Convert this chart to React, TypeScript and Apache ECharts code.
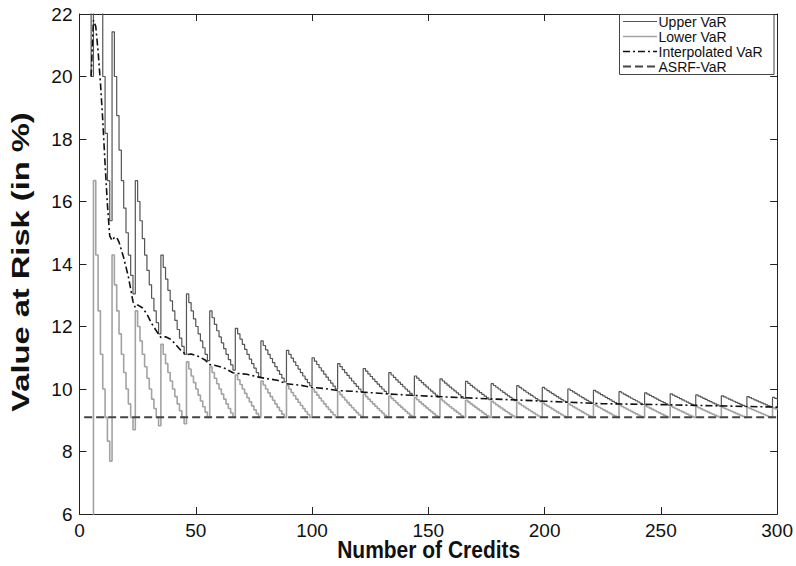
import React, { useEffect, useRef } from "react";
import * as echarts from "echarts";

// Number of credits at which the loss count (number of defaults at the quantile) steps up
const stepCredits = [1, 6, 14, 24, 35, 46, 56, 67, 78, 89, 100, 111, 122, 133, 144, 155, 166, 177, 188, 199, 210, 221, 232, 243, 254, 265, 276, 287, 298];
// Default counts of the upper and lower quantile on each step
const upperDefaults = [1, 2, 3, 4, 5, 6, 7, 8, 9, 10, 11, 12, 13, 14, 15, 16, 17, 18, 19, 20, 21, 22, 23, 24, 25, 26, 27, 28, 29];
const lowerDefaults = [0, 1, 2, 3, 4, 5, 6, 7, 8, 9, 10, 11, 12, 13, 14, 15, 16, 17, 18, 19, 20, 21, 22, 23, 24, 25, 26, 27, 28];
const maxCredits = 300;

// Interpolated VaR
const interpCredits = [5, 6, 7, 8, 9, 10, 11, 12, 13, 14, 15, 16, 17, 19, 21, 23, 24, 25, 27, 29, 31, 34, 35, 37, 39, 41, 44, 46, 48, 51, 54, 56, 58, 62, 66, 68, 72, 77, 80, 85, 89, 95, 100, 106, 111, 117, 122, 133, 150, 175, 200, 225, 250, 275, 300];
const interpVaR = [20.0, 21.8, 21.6, 20.8, 19.8, 18.6, 17.2, 15.9, 14.9, 14.75, 14.85, 14.85, 14.7, 14.2, 13.6, 12.8, 12.6, 12.69, 12.6, 12.4, 12.1, 11.75, 11.65, 11.67, 11.6, 11.46, 11.2, 11.1, 11.12, 11.05, 10.93, 10.78, 10.76, 10.68, 10.52, 10.5, 10.47, 10.38, 10.34, 10.28, 10.17, 10.12, 10.05, 10.01, 9.95, 9.93, 9.9, 9.84, 9.77, 9.69, 9.61, 9.53, 9.5, 9.46, 9.42];

// ASRF-VaR
const asrfCredits = [2, 300];
const asrfVaR = [9.1, 9.1];

const legendNames = ["Upper VaR", "Lower VaR", "Interpolated VaR", "ASRF-VaR"];
const xTitle = "Number of Credits";
const yTitle = "Value at Risk (in %)";

const FONT = "'Liberation Sans', Arial, Helvetica, sans-serif";

const UPPER_COLOR = "#555";
const LOWER_COLOR = "#a3a3a3";
const INTERP_COLOR = "#111";
const ASRF_COLOR = "#444";

function stairs(defaults: number[]) {
  const pts: number[][] = [];
  let seg = 0;
  for (let n = 1; n <= maxCredits; n++) {
    while (seg + 1 < stepCredits.length && stepCredits[seg + 1] <= n) seg++;
    pts.push([n, (defaults[seg] / n) * 100]);
  }
  return pts;
}

export default function App() {
  const ref = useRef<HTMLDivElement>(null);
  useEffect(() => {
    if (!ref.current) return;
    const chart = echarts.init(ref.current, undefined, { renderer: "svg" });
    const axisCommon = {
      axisLine: { show: true, onZero: false, lineStyle: { color: "#222", width: 1 } },
      axisTick: { show: true, inside: true, length: 7, lineStyle: { color: "#222", width: 1 } },
      splitLine: { show: false },
    };

    const legendStyles = [
      { stroke: UPPER_COLOR, lineWidth: 1.2, lineDash: null as any },
      { stroke: LOWER_COLOR, lineWidth: 1.6, lineDash: null as any },
      { stroke: INTERP_COLOR, lineWidth: 1.6, lineDash: [7, 3, 2, 3] },
      { stroke: ASRF_COLOR, lineWidth: 2, lineDash: [8, 4] },
    ];
    const legendTop = 14.5;
    const rowY = (i: number) => 21.5 + i * 15;
    const legendElements: any[] = [
      {
        type: "rect",
        z: 100,
        shape: { x: 619.5, y: legendTop, width: 154.5, height: 60 },
        style: { fill: "#fff", stroke: "#444", lineWidth: 1 },
      },
    ];
    legendNames.forEach((name, i) => {
      const s = legendStyles[i];
      legendElements.push({
        type: "line",
        z: 101,
        shape: { x1: 623, y1: rowY(i), x2: 657, y2: rowY(i) },
        style: { stroke: s.stroke, lineWidth: s.lineWidth, lineDash: s.lineDash || undefined },
      });
      legendElements.push({
        type: "text",
        z: 101,
        x: 658.5,
        y: rowY(i),
        style: {
          text: name,
          font: `14px ${FONT}`,
          fill: "#111",
          align: "left",
          verticalAlign: "middle",
          textAlign: "left",
          textVerticalAlign: "middle",
        },
      });
    });

    chart.setOption({
      animation: false,
      backgroundColor: "#fff",
      textStyle: { fontFamily: FONT },
      grid: { left: 79.5, right: 18, top: 14, bottom: 52, containLabel: false },
      graphic: [
        {
          type: "text",
          z: 50,
          x: 21,
          y: 262,
          rotation: Math.PI / 2,
          scaleX: 1.42,
          style: {
            text: yTitle,
            font: `bold 23px ${FONT}`,
            fill: "#111",
            align: "center",
            verticalAlign: "middle",
            textAlign: "center",
            textVerticalAlign: "middle",
          },
        },
        {
          type: "text",
          z: 50,
          x: 428.7,
          y: 550,
          scaleY: 1.1,
          style: {
            text: xTitle,
            font: `bold 21px ${FONT}`,
            fill: "#111",
            align: "center",
            verticalAlign: "middle",
            textAlign: "center",
            textVerticalAlign: "middle",
          },
        },
        ...legendElements,
      ],
      xAxis: [
        {
          type: "value",
          min: 0,
          max: 300,
          interval: 50,
          position: "bottom",
          axisLabel: { fontFamily: FONT, fontSize: 19, color: "#111", margin: 7 },
          ...axisCommon,
        },
        {
          type: "value",
          min: 0,
          max: 300,
          interval: 50,
          position: "top",
          axisLabel: { show: false },
          ...axisCommon,
        },
      ],
      yAxis: [
        {
          type: "value",
          min: 6,
          max: 22,
          interval: 2,
          position: "left",
          axisLabel: { fontFamily: FONT, fontSize: 19, color: "#111", margin: 7 },
          ...axisCommon,
        },
        {
          type: "value",
          min: 6,
          max: 22,
          interval: 2,
          position: "right",
          axisLabel: { show: false },
          ...axisCommon,
        },
      ],
      series: [
        {
          name: legendNames[0],
          type: "line",
          step: "end",
          data: stairs(upperDefaults),
          showSymbol: false,
          symbol: "none",
          clip: true,
          lineStyle: { color: UPPER_COLOR, width: 1.2 },
          itemStyle: { color: UPPER_COLOR },
          z: 3,
        },
        {
          name: legendNames[1],
          type: "line",
          step: "end",
          data: stairs(lowerDefaults),
          showSymbol: false,
          symbol: "none",
          clip: true,
          lineStyle: { color: LOWER_COLOR, width: 1.6 },
          itemStyle: { color: LOWER_COLOR },
          z: 2,
        },
        {
          name: legendNames[2],
          type: "line",
          data: interpCredits.map((c, i) => [c, interpVaR[i]]),
          showSymbol: false,
          symbol: "none",
          clip: true,
          lineStyle: { color: INTERP_COLOR, width: 1.6, type: [7, 3, 2, 3] },
          itemStyle: { color: INTERP_COLOR },
          z: 4,
        },
        {
          name: legendNames[3],
          type: "line",
          data: asrfCredits.map((c, i) => [c, asrfVaR[i]]),
          showSymbol: false,
          symbol: "none",
          clip: true,
          lineStyle: { color: ASRF_COLOR, width: 2, type: [8, 4] },
          itemStyle: { color: ASRF_COLOR },
          z: 5,
        },
      ],
    });
    return () => chart.dispose();
  }, []);
  return (
    <div
      ref={ref}
      style={{ position: "absolute", left: 0, top: 0, width: 796, height: 566 }}
    />
  );
}
